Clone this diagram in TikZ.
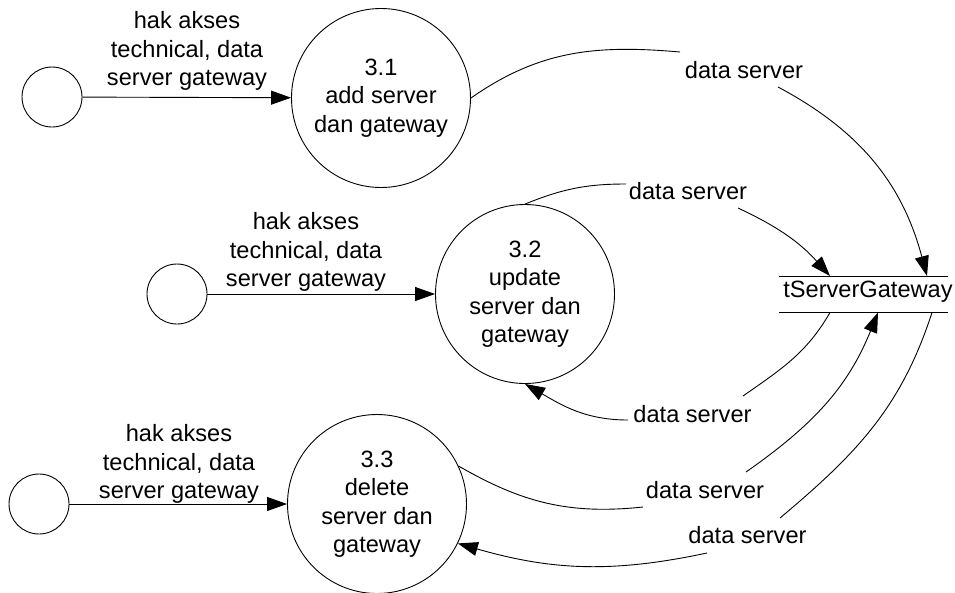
\documentclass[tikz,border=0pt]{standalone}
\usepackage{fontspec}
\setmainfont{Liberation Sans}
\usetikzlibrary{arrows.meta,calc}
\begin{document}
\begin{tikzpicture}[x=1pt,y=-1pt,
  every node/.style={font=\fontsize{23.6}{28.5}\selectfont, align=center, inner sep=0pt},
  ext/.style={circle, draw, line width=0.9pt, minimum size=60pt},
  proc/.style={circle, draw, line width=0.9pt, minimum size=179pt},
  flow/.style={line width=0.9pt},
  tip/.style={-{Triangle[length=20pt,width=14pt]}}
]
\useasboundingbox (0,0) rectangle (955,592);
% entities
\node[ext] (E1) at (52,97) {};
\node[ext] (E2) at (177,294) {};
\node[ext] (E3) at (39,504) {};
% processes
\node[proc] (P1) at (381,98) {3.1\\add server\\dan gateway};
\node[proc] (P2) at (525,294) {3.2\\update\\server dan\\gateway};
\node[proc] (P3) at (377,504) {3.3\\delete\\server dan\\gateway};
% store
\node (S) at (868,292) {tServerGateway};
\coordinate (Stop) at ([yshift=16pt]S.center);
\coordinate (Sbot) at ([yshift=-20.5pt]S.center);
\draw[flow] ([xshift=-89pt]Stop) -- ([xshift=80pt]Stop);
\draw[flow] ([xshift=-89pt]Sbot) -- ([xshift=80pt]Sbot);
% inputs
\draw[flow,tip] (E1) -- (P1);
\node (LE1) at (187,51) {hak akses\\technical, data\\server gateway};
\draw[flow,tip] (E2) -- (P2);
\node (LE2) at (306,252) {hak akses\\technical, data\\server gateway};
\draw[flow,tip] (E3) -- (P3);
\node (LE3) at (179,464) {hak akses\\technical, data\\server gateway};
% data server labels
\node (L1) at (744,70) {data server};
\node (L2) at (688,191) {data server};
\node (L3) at (692.5,414) {data server};
\node (L4) at (705,490) {data server};
\node (L5) at (747.5,535) {data server};
\coordinate (c1a) at (680,52);
\coordinate (c1b) at (778,87);
\coordinate (c2a) at (626,184);
\coordinate (c2b) at (738,208);
\coordinate (c3a) at (743,396);
\coordinate (c3b) at (628,420);
\coordinate (c4a) at (643,507);
\coordinate (c4b) at (746,472);
\coordinate (c5a) at (780,518);
\coordinate (c5b) at (707,553);
% flow 1: P1 -> store
\draw[flow] (P1.east) to[out=35,in=175] (c1a);
\draw[flow,tip] (c1b) to[out=-28,in=105] ([xshift=59pt]Stop);
% flow 2: P2 -> store
\draw[flow] (P2.north) to[out=22,in=180] (c2a);
\draw[flow,tip] (c2b) to[out=-25,in=132] ([xshift=-38pt]Stop);
% flow 3: store -> P2
\draw[flow] ([xshift=-38pt]Sbot) to[out=-120,in=35] (c3a);
\draw[flow,tip] (c3b) to[out=180,in=-30] (P2.south);
% flow 4: P3 -> store
\draw[flow] (P3.25) to[out=-30,in=186] (c4a);
\draw[flow,tip] (c4b) to[out=35,in=-112] ([xshift=10pt]Sbot);
% flow 5: store -> P3
\draw[flow] ([xshift=64pt]Sbot) to[out=-108,in=40] (c5a);
\draw[flow,tip] (c5b) to[out=192,in=-16] (P3.-26);
\end{tikzpicture}
\end{document}
